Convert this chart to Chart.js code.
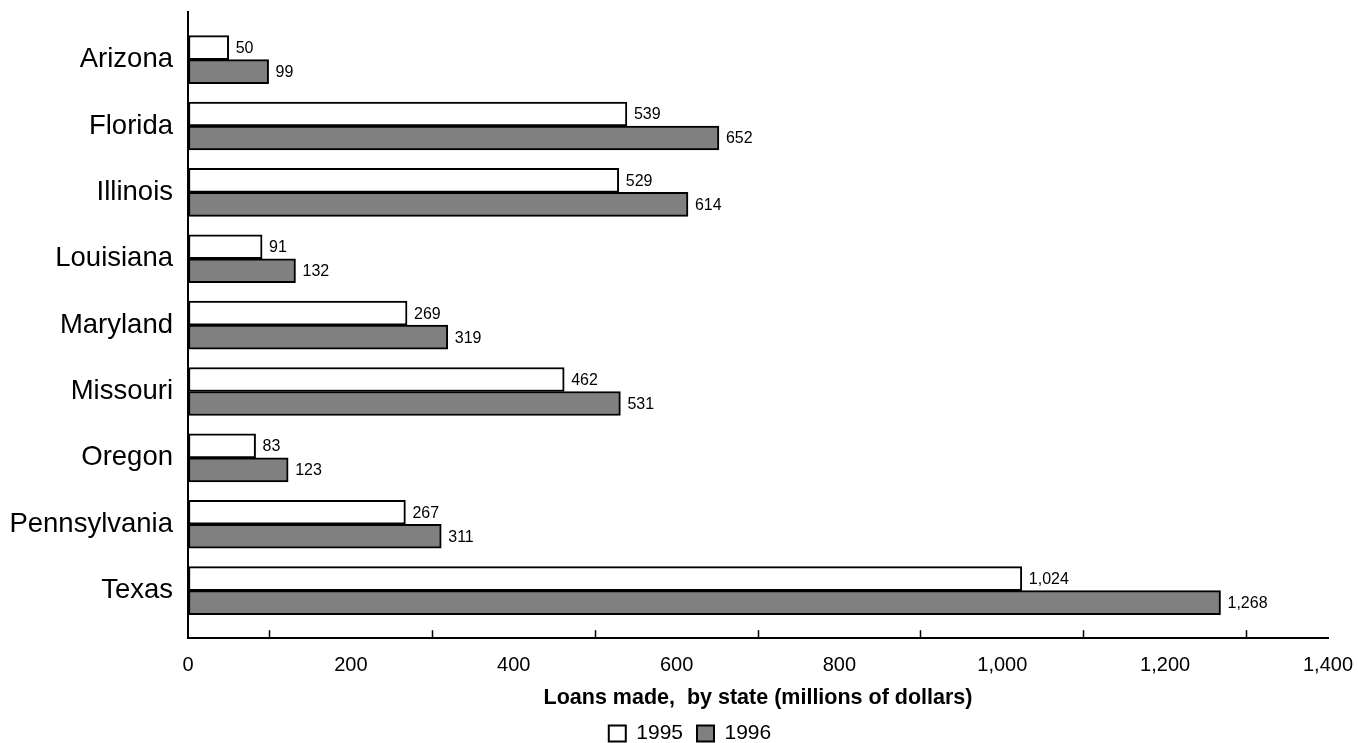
<!DOCTYPE html>
<html>
<head>
<meta charset="utf-8">
<script src="https://cdn.jsdelivr.net/npm/chart.js@4/dist/chart.umd.min.js"></script>
<style>
  body { margin: 0; background: #fff; }
  #wrap { width: 1359px; height: 743px; }
</style>
</head>
<body>
<div id="wrap"><canvas id="loans-chart"></canvas></div>
<script>
const states = ['Arizona', 'Florida', 'Illinois', 'Louisiana', 'Maryland', 'Missouri', 'Oregon', 'Pennsylvania', 'Texas']
const loans1995 = [50, 539, 529, 91, 269, 462, 83, 267, 1024]
const loans1996 = [99, 652, 614, 132, 319, 531, 123, 311, 1268]
const years = ['1995', '1996']
const xTicks = [0, 200, 400, 600, 800, 1000, 1200, 1400]

const FONT = "'Liberation Sans', Arial, sans-serif"

function fmt(v) {
    return v.toLocaleString('en-US')
}

// value labels at the end of each bar
const barLabels = {
    id: 'barLabels',
    afterDatasetsDraw(chart) {
        const ctx = chart.ctx
        ctx.save()
        ctx.font = '16px ' + FONT
        ctx.fillStyle = '#000'
        ctx.textAlign = 'left'
        ctx.textBaseline = 'middle'
        chart.data.datasets.forEach((ds, i) => {
            chart.getDatasetMeta(i).data.forEach((bar, j) => {
                ctx.fillText(fmt(ds.data[j].x), bar.x + 7, bar.y + 1)
            })
        })
        ctx.restore()
    }
}

// legend sits a little right of the canvas centre in the original
const legendShift = {
    id: 'legendShift',
    afterUpdate(chart) {
        chart.legend.left += 26
        chart.legend.right += 26
    }
}

const canvas = document.querySelector('#loans-chart').getContext('2d')

new Chart(canvas, {
    type: 'bar',
    data: {
        datasets: [
            {
                label: years[0],
                data: loans1995.map((v, i) => ({ x: v, y: i })),
                backgroundColor: '#ffffff',
                borderColor: '#000000',
                borderWidth: 2,
                borderSkipped: false,
                barThickness: 24
            },
            {
                label: years[1],
                data: loans1996.map((v, i) => ({ x: v, y: i })),
                backgroundColor: '#808080',
                borderColor: '#000000',
                borderWidth: 2,
                borderSkipped: false,
                barThickness: 24
            }
        ]
    },
    options: {
        indexAxis: 'y',
        responsive: true,
        maintainAspectRatio: false,
        animation: false,
        layout: { padding: { top: 12, right: 31, bottom: -11, left: 0 } },
        scales: {
            x: {
                type: 'linear',
                min: 0,
                max: 1400,
                afterFit: scale => {
                    scale.paddingLeft = 0
                    scale.paddingRight = 0
                },
                grid: {
                    drawOnChartArea: false,
                    tickLength: -8,
                    tickWidth: 1.5,
                    tickColor: c => (c.tick && c.tick.value % 200 === 100) ? '#000' : 'rgba(0,0,0,0)'
                },
                border: { color: '#000', width: 2 },
                ticks: {
                    stepSize: 100,
                    autoSkip: false,
                    maxRotation: 0,
                    padding: 23,
                    color: '#000',
                    font: { family: FONT, size: 20 },
                    callback: v => xTicks.includes(v) ? fmt(v) : ''
                },
                title: {
                    display: true,
                    text: 'Loans made,  by state (millions of dollars)',
                    color: '#000',
                    font: { family: FONT, size: 21.5, weight: 'bold' },
                    padding: { top: -15, bottom: -2 }
                }
            },
            y: {
                type: 'linear',
                reverse: true,
                offset: false,
                bounds: 'data',
                min: -0.717,
                max: 8.717,
                afterBuildTicks: scale => {
                    scale.ticks = states.map((s, i) => ({ value: i }))
                },
                afterFit: scale => {
                    scale.width = 188
                    scale.paddingTop = 0
                    scale.paddingBottom = 0
                },
                grid: { display: false, drawTicks: false },
                border: { color: '#000', width: 2 },
                ticks: {
                    autoSkip: false,
                    padding: 15,
                    color: '#000',
                    font: { family: FONT, size: 27.5 },
                    callback: v => states[v]
                }
            }
        },
        plugins: {
            legend: {
                position: 'bottom',
                labels: {
                    color: '#000',
                    font: { family: FONT, size: 21 },
                    boxWidth: 17,
                    boxHeight: 16,
                    padding: 14
                }
            },
            tooltip: { enabled: false }
        }
    },
    plugins: [barLabels, legendShift]
})
</script>
</body>
</html>
